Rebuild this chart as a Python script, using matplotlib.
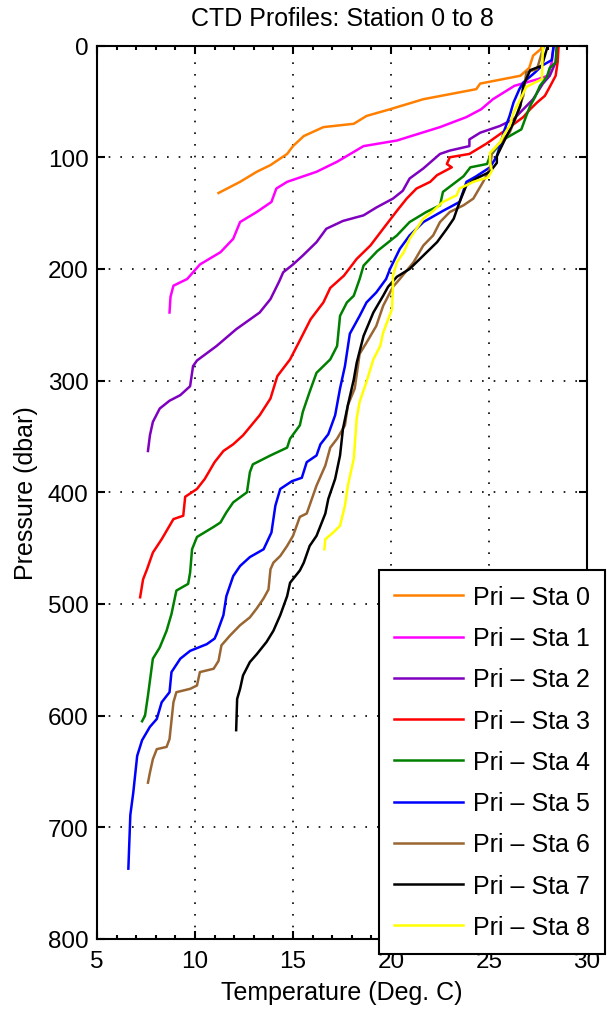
import matplotlib
matplotlib.use("Agg")
import matplotlib.pyplot as plt
from matplotlib.ticker import MultipleLocator

plt.rcParams['font.family'] = ['Liberation Sans', 'DejaVu Sans']

# station profiles: temperature (deg C) and pressure (dbar)
t0 = [27.7, 27.65, 27.25, 27.05, 26.6, 24.55, 24.35, 21.65, 19.95, 18.75, 18.1, 16.55, 15.55, 15.0, 14.7, 13.85, 13.15, 12.3, 11.2]
p0 = [0, 3, 9, 20, 27, 34, 39, 48, 57, 63, 70, 73, 81, 90, 97, 107, 113, 122, 132]

t1 = [28.3, 28.2, 28.0, 27.5, 26.3, 25.2, 24.6, 23.85, 22.5, 20.3, 18.6, 17.25, 16.2, 14.7, 14.15, 13.9, 13.15, 12.3, 11.95, 11.3, 10.25, 9.6, 8.9, 8.75, 8.7]
p1 = [0, 15, 27, 30, 36, 48, 57, 64, 73, 85, 90, 104, 113, 122, 128, 140, 149, 158, 173, 185, 196, 209, 215, 225, 239]

t2 = [28.5, 28.4, 28.1, 27.75, 27.25, 26.25, 25.55, 24.55, 24.0, 24.0, 23.0, 22.5, 21.65, 20.95, 20.6, 20.1, 19.25, 18.6, 17.55, 16.7,
      16.2, 15.5, 15.0, 14.5, 14.3, 13.85, 13.3, 12.1, 11.1, 10.1, 9.9, 9.75, 9.25, 8.7, 8.2, 7.85, 7.7, 7.6]
p2 = [0, 15, 27, 34, 48, 66, 72, 78, 84, 90, 94, 97, 110, 119, 130, 137, 145, 152, 157, 164,
      176, 188, 196, 203, 211, 227, 239, 254, 269, 282, 287, 305, 313, 318, 325, 337, 349, 363]

t3 = [28.55, 28.5, 28.4, 28.1, 27.85, 27.45, 27.1, 26.75, 25.9, 25.1, 24.85, 24.0, 23.0, 22.85, 23.1, 22.35, 22.0, 21.3, 20.8, 20.3,
      19.6, 18.95, 18.25, 17.6, 16.9, 16.55, 15.9, 15.35, 14.85, 14.2, 13.85, 13.3, 12.45, 11.95, 11.45, 11.0, 10.5, 10.1, 9.5, 9.4,
      8.9, 8.3, 7.85, 7.55, 7.35, 7.2]
p3 = [0, 15, 27, 37, 45, 51, 57, 64, 75, 85, 88, 97, 100, 106, 109, 116, 122, 128, 137, 148,
      164, 179, 191, 206, 217, 230, 245, 264, 281, 296, 316, 331, 349, 357, 363, 373, 388, 397, 404, 421,
      424, 442, 454, 469, 478, 494]

t4 = [28.45, 28.4, 28.1, 27.95, 27.6, 27.35, 27.1, 26.9, 26.65, 25.75, 25.05, 24.9, 24.05, 23.7, 22.65, 22.5, 21.8, 20.95, 20.3, 19.3,
      18.6, 18.4, 18.1, 17.75, 17.4, 17.25, 16.9, 16.2, 15.85, 15.5, 15.35, 14.85, 14.7, 13.85, 12.95, 12.8, 12.65, 11.95, 11.6, 11.3,
      10.95, 10.1, 9.85, 9.75, 9.65, 9.05, 8.8, 8.55, 8.2, 7.85, 7.6, 7.45, 7.3]
p4 = [0, 15, 20, 28, 36, 46, 54, 63, 75, 84, 99, 106, 109, 117, 131, 143, 149, 158, 170, 184,
      197, 209, 224, 230, 242, 269, 281, 293, 310, 328, 340, 352, 360, 367, 375, 382, 400, 409, 418, 427,
      431, 440, 451, 472, 482, 488, 509, 524, 539, 549, 582, 600, 605]

t5 = [28.3, 28.2, 27.7, 27.35, 26.75, 26.55, 26.25, 26.05, 25.8, 25.4, 25.05, 24.35, 23.85, 23.5, 22.65, 21.65, 20.95, 20.45, 19.95, 19.75,
      19.25, 18.75, 18.4, 17.9, 17.65, 17.4, 17.15, 16.8, 16.4, 16.2, 15.7, 15.45, 14.95, 14.35, 14.1, 13.9, 13.5, 12.8, 12.3, 11.95,
      11.6, 11.45, 11.1, 11.0, 10.6, 9.75, 9.25, 8.8, 8.7, 8.3, 8.05, 7.7, 7.3, 7.05, 6.85, 6.7, 6.6]
p5 = [0, 13, 18, 24, 33, 39, 51, 63, 75, 99, 109, 117, 122, 140, 148, 158, 170, 182, 200, 209,
      221, 230, 242, 258, 287, 307, 331, 348, 357, 367, 373, 387, 390, 397, 412, 436, 451, 458, 466, 475,
      493, 510, 527, 531, 536, 542, 549, 561, 579, 588, 603, 610, 622, 636, 669, 689, 737]

t6 = [27.8, 27.45, 26.9, 26.75, 26.4, 26.05, 25.4, 25.15, 25.05, 24.7, 24.2, 23.7, 23.0, 22.5, 22.15, 21.65, 21.15, 20.45, 20.1, 19.6,
      19.25, 18.75, 18.4, 18.15, 17.8, 17.65, 17.25, 16.9, 16.65, 16.2, 15.7, 15.35, 15.0, 14.7, 14.35, 14.0, 13.85, 13.75, 13.5, 13.15,
      12.8, 12.3, 11.8, 11.35, 11.2, 10.95, 10.25, 10.1, 9.75, 9.05, 8.9, 8.7, 8.55, 8.05, 7.85, 7.7, 7.6]
p6 = [0, 21, 24, 45, 63, 78, 90, 96, 110, 122, 137, 143, 149, 158, 170, 179, 194, 209, 216, 233,
      251, 266, 276, 307, 322, 340, 352, 360, 376, 394, 419, 422, 439, 448, 457, 463, 469, 487, 495, 504,
      512, 519, 528, 537, 551, 558, 561, 573, 576, 579, 588, 621, 628, 630, 639, 651, 660]

t7 = [28.0, 27.7, 27.1, 26.9, 26.75, 26.6, 26.25, 25.9, 25.4, 25.4, 25.05, 24.35, 23.85, 23.5, 23.2, 22.85, 22.35, 21.65, 20.95, 20.3,
      19.85, 19.6, 19.1, 18.6, 18.25, 18.1, 17.8, 17.55, 17.4, 17.15, 16.8, 16.65, 16.2, 15.85, 15.55, 15.35, 14.85, 14.7, 14.35, 14.0,
      13.65, 13.15, 12.8, 12.45, 12.3, 12.15, 12.1]
p7 = [0, 18, 22, 30, 36, 54, 69, 81, 99, 105, 113, 119, 125, 140, 155, 164, 176, 188, 200, 207,
      216, 224, 239, 260, 284, 299, 322, 343, 367, 388, 406, 419, 439, 448, 463, 470, 481, 493, 510, 524,
      534, 545, 552, 564, 576, 585, 613]

t8 = [27.75, 27.7, 26.9, 26.6, 26.25, 26.05, 25.75, 25.55, 25.05, 25.05, 25.15, 24.95, 24.2, 23.5, 23.35, 22.65, 22.15, 21.65, 21.3, 20.95,
      20.65, 20.3, 20.1, 20.1, 20.05, 19.6, 19.45, 19.1, 18.75, 18.4, 18.25, 18.1, 17.8, 17.65, 17.4, 17.05, 16.65, 16.6]
p8 = [0, 30, 37, 48, 60, 72, 80, 87, 96, 105, 112, 118, 122, 128, 134, 140, 148, 155, 164, 173,
      185, 194, 206, 216, 236, 257, 269, 281, 301, 319, 334, 370, 394, 412, 430, 436, 442, 451]

temps = [t0, t1, t2, t3, t4, t5, t6, t7, t8]
pres = [p0, p1, p2, p3, p4, p5, p6, p7, p8]
labels = ['Pri \u2013 Sta %d' % i for i in range(9)]
colors = ['#ff8000', '#ff00ff', '#7f00bf', '#ff0000', '#008000', '#0000ff', '#996633', '#000000', '#ffff00']

fig = plt.figure(figsize=(6.07, 10.12), dpi=100)
ax = fig.add_axes([97 / 607, 1 - 940 / 1012, 490 / 607, (940 - 46.6) / 1012])

for t, p, c, lab in zip(temps, pres, colors, labels):
    ax.plot(t, p, color=c, lw=1.8, label=lab)

ax.set_xlim(5, 30)
ax.set_ylim(800, 0)
ax.set_xticks(range(5, 31, 5))
ax.set_yticks(range(0, 801, 100))
ax.xaxis.set_minor_locator(MultipleLocator(1))
ax.tick_params(which='both', direction='in', top=True, right=True, width=1.5, labelsize=17.5)
ax.tick_params(which='major', length=6)
ax.tick_params(which='minor', length=3)
ax.tick_params(axis='x', pad=8)
ax.tick_params(axis='y', pad=6)
for s in ax.spines.values():
    s.set_linewidth(1.5)
ax.grid(True, which='major', color='k', linestyle=(0, (1, 6)), linewidth=1.2)

ax.set_title('CTD Profiles: Station 0 to 8', fontsize=18, pad=14.5)
ax.set_xlabel('Temperature (Deg. C)', fontsize=18, labelpad=5.5)
ax.set_ylabel('Pressure (dbar)', fontsize=18, labelpad=7)

leg = ax.legend(loc='upper right', bbox_to_anchor=(605 / 607, 1 - 571 / 1012), bbox_transform=fig.transFigure,
                borderaxespad=0, fontsize=18, handlelength=2.75, handletextpad=0.4, labelspacing=0.69,
                borderpad=0.6, fancybox=False, framealpha=1, edgecolor='k')
leg.get_frame().set_linewidth(1.5)

fig.savefig('out.png', dpi=100)
